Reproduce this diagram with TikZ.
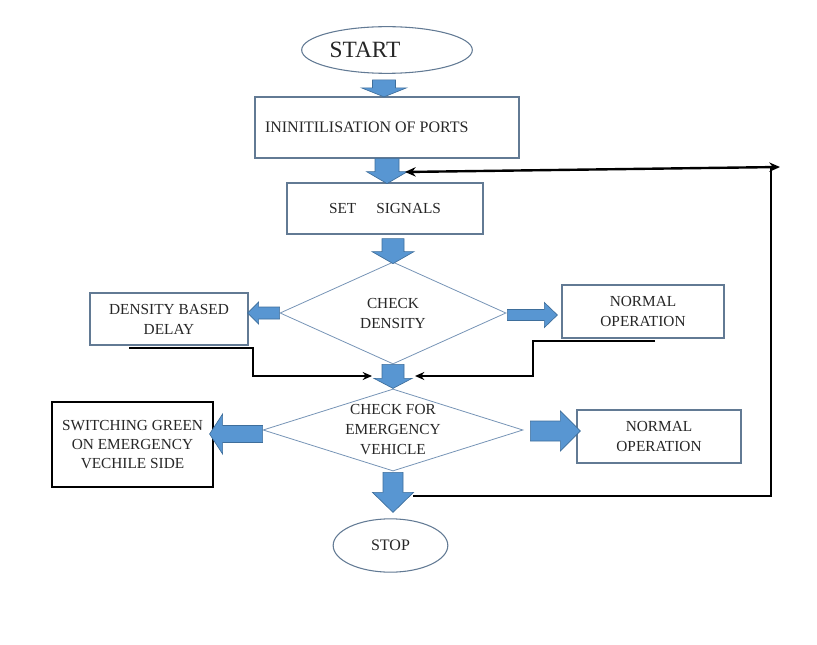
\documentclass[tikz,border=0pt]{standalone}
\usepackage{fontspec}
\setmainfont{Liberation Serif}
\usetikzlibrary{shapes.geometric,arrows.meta,calc}

\definecolor{arrowblue}{RGB}{88,150,210}
\definecolor{arrowedge}{RGB}{62,110,155}
\definecolor{boxedge}{RGB}{98,122,148}
\definecolor{diaedge}{RGB}{118,148,182}
\definecolor{textgray}{RGB}{38,38,38}

% fat arrow: tail point, angle, length, shaft width, head width, head length
\newcommand{\blockarrow}[6]{%
  \begin{scope}[shift={(#1)},rotate=#2]
    \filldraw[blockarrow] (0,#4/2) -- (#3-#6,#4/2) -- (#3-#6,#5/2) -- (#3,0)
      -- (#3-#6,-#5/2) -- (#3-#6,-#4/2) -- (0,-#4/2) -- cycle;
  \end{scope}}

\begin{document}
\begin{tikzpicture}[x=0.75pt,y=-0.75pt]
    \tikzstyle{terminal}=[ellipse,draw=boxedge,line width=0.8pt,inner sep=0pt,text=textgray]
    \tikzstyle{process}=[rectangle,draw=boxedge,line width=0.9pt,inner sep=0pt,align=center,text=textgray,font=\fontsize{11.5pt}{15pt}\selectfont]
    \tikzstyle{decision}=[diamond,draw=diaedge,line width=0.6pt,inner sep=0pt,align=center,text=textgray,font=\fontsize{11.5pt}{15pt}\selectfont]
    \tikzstyle{blockarrow}=[fill=arrowblue,draw=arrowedge,line width=0.5pt]
    \tikzstyle{flow}=[black,line width=1.4pt,-{Stealth[length=7pt,width=6pt]}]

    \useasboundingbox (0,0) rectangle (817,645);

    \node (start)[terminal,minimum width=128pt,minimum height=35pt,font=\fontsize{17.5pt}{20pt}\selectfont] at (387,50) {\makebox[86pt][l]{START}};
    \node (init)[process,minimum width=198pt,minimum height=45.75pt,font=\fontsize{12pt}{15pt}\selectfont] at (387,127.5) {\makebox[183pt][l]{ININITILISATION OF PORTS}};
    \node (set)[process,minimum width=147pt,minimum height=38.25pt] at (385,208.5) {SET\hspace{15pt}SIGNALS};
    \node (density)[decision,minimum width=169.5pt,minimum height=76.5pt,aspect=2.2] at (393,313) {CHECK\\DENSITY};
    \node (delay)[process,minimum width=118.5pt,minimum height=39pt] at (169,319) {DENSITY BASED\\DELAY};
    \node (normalA)[process,minimum width=121.5pt,minimum height=39.75pt] at (643,311.5) {NORMAL\\OPERATION};
    \node (emergency)[decision,minimum width=195pt,minimum height=61.5pt,aspect=3.17,inner sep=-1.5pt] at (393,430) {CHECK FOR\\EMERGENCY\\VEHICLE};
    \node (switch)[process,draw=black,line width=1.1pt,minimum width=120.75pt,minimum height=63.75pt,font=\fontsize{11.5pt}{14.3pt}\selectfont] at (132.5,444.5) {SWITCHING GREEN\\ON EMERGENCY\\VECHILE SIDE};
    \node (normalB)[process,minimum width=123pt,minimum height=39.75pt] at (659,436.5) {NORMAL\\OPERATION};
    \node (stop)[terminal,minimum width=86pt,minimum height=40pt,font=\fontsize{12pt}{14pt}\selectfont] at (390.5,545.5) {STOP};

    \blockarrow{$(start.south)+(-3,6)$}{-90}{17}{23}{45}{9}
    \blockarrow{init.south}{-90}{25}{24}{41}{12}
    \blockarrow{$(set.south)+(8,4)$}{-90}{25}{22}{42}{12}
    \blockarrow{density.west}{180}{32}{12}{22}{11}
    \blockarrow{$(density.east)+(1,2)$}{0}{50}{11}{25}{13}
    \blockarrow{density.south}{-90}{24}{22}{38}{10}
    \blockarrow{$(emergency.west)+(0,4)$}{180}{53}{17}{40}{13}
    \blockarrow{$(emergency.east)+(7,1)$}{0}{50}{20}{40}{20}
    \blockarrow{$(emergency.south)+(0,1)$}{-90}{40}{20}{41}{20}

    \coordinate (joinL) at (372,376);
    \coordinate (joinR) at (415,376);
    \coordinate (loopS) at (413,496);
    \coordinate (loopE) at (771,496);
    \coordinate (loopN) at (780,167);
    \coordinate (loopT) at (405,172);

    \draw[flow] ($(delay.south west)+(40,2)$) -- ($(delay.south east)+(4,2)$) |- (joinL);
    \draw[flow] ($(normalA.south)+(12,2)$) -- ($(normalA.south west)+(-28,2)$) |- (joinR);

    \draw[black,line width=1.8pt] (loopS) -- (loopE) -- (loopE |- loopN);
    \draw[black,line width=1.8pt,{Stealth[length=8pt,width=7pt]}-{Stealth[length=8pt,width=7pt]}] (loopT) -- (loopN);
\end{tikzpicture}
\end{document}
